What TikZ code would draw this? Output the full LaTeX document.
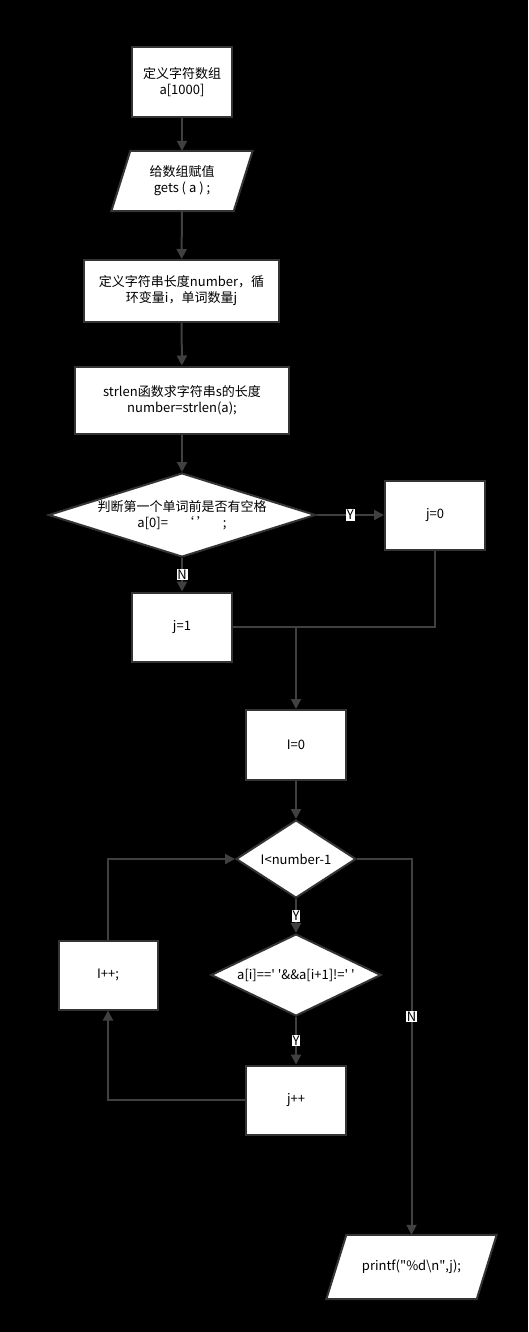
\documentclass[tikz,border=0pt]{standalone}
\usepackage{fontspec}
\setmainfont{Noto Sans CJK SC}
\usetikzlibrary{shapes.geometric,arrows.meta}
\pgfdeclarelayer{background}
\pgfsetlayers{background,main}
\definecolor{edgeGray}{RGB}{64,64,64}
\definecolor{borderGray}{RGB}{52,52,52}
\newcommand{\chartFont}[0]{\fontsize{13}{16}\selectfont}
\newcommand{\sq}[0]{\textquotesingle}
\newcommand{\ioFrame}[2]{%
  \draw[ioedge] ([xshift=#2]#1.north west) -- ([xshift=#2]#1.north east)
    -- ([xshift=-#2]#1.south east) -- ([xshift=-#2]#1.south west) -- cycle;}

\begin{document}
\begin{tikzpicture}[x=1pt, y=-1pt]
  \tikzset{
    procbox/.style={draw=borderGray, line width=2pt, fill=white, align=center,
      font=\chartFont, inner sep=0pt},
    iobox/.style={align=center, font=\chartFont, inner sep=0pt},
    ioedge/.style={draw=borderGray, line width=2pt, fill=white, line join=miter},
    testbox/.style={diamond, draw=borderGray, line width=2pt, fill=white, inner sep=0pt},
    testtext/.style={align=center, font=\chartFont, inner sep=0pt},
    yesno/.style={fill=white, text=black, inner sep=0.8pt, font=\fontsize{13}{13}\selectfont},
    flowline/.style={draw=edgeGray, line width=2pt},
    flow/.style={flowline, -{Triangle[length=10pt, width=10pt]}}
  }
  \useasboundingbox (0,0) rectangle (528,1332);

  \node[procbox, minimum width=100, minimum height=70] (defarr) at (182,82)
    {定义字符数组\\a[1000]};
  \node[iobox, minimum width=122, minimum height=60] (getarr) at (182,181)
    {给数组赋值\\gets ( a ) ;};
  \node[procbox, minimum width=195, minimum height=62] (defvar) at (181.5,291)
    {定义字符串长度number，循\\环变量i，单词数量j};
  \node[procbox, minimum width=214, minimum height=67] (getlen) at (182,400)
    {strlen函数求字符串s的长度\\number=strlen(a);};
  \node[testbox, minimum width=267, minimum height=84] (firstsp) at (182,515) {};
  \node[testtext] at (firstsp) {判断第一个单词前是否有空格\\a[0]=\quad‘\ ’\quad;};
  \node[procbox, minimum width=100, minimum height=69] (jzero) at (435,515) {j=0};
  \node[procbox, minimum width=100, minimum height=69] (jone) at (182,627) {j=1};
  \node[procbox, minimum width=100, minimum height=70] (izero) at (296,745) {I=0};
  \node[testbox, minimum width=120, minimum height=78] (loopcond) at (296,859) {};
  \node[testtext] at (loopcond) {I<number-1};
  \node[testbox, minimum width=170, minimum height=82] (wordcond) at (296,975) {};
  \node[testtext] at (wordcond) {a[i]==\sq\ \sq\&\&a[i+1]!=\sq\ \sq};
  \node[procbox, minimum width=100, minimum height=69] (jinc) at (296,1100) {j++};
  \node[procbox, minimum width=99, minimum height=69] (iinc) at (108,975) {I++;};
  \node[iobox, minimum width=150, minimum height=64] (output) at (411.5,1267)
    {printf(\textquotedbl\%d\textbackslash n\textquotedbl,j);};
  \coordinate (merge) at (izero.north |- jone.east);

  \begin{pgfonlayer}{background}
    \fill[black] (0,0) rectangle (528,1332);
    \ioFrame{getarr}{9.5}
    \ioFrame{output}{10}
  \end{pgfonlayer}

  \draw[flow] (defarr) -- (getarr);
  \draw[flow] (getarr) -- (defvar);
  \draw[flow] (defvar) -- (getlen);
  \draw[flow] (getlen) -- (firstsp);
  \draw[flow] (firstsp) -- node[yesno] {Y} (jzero);
  \draw[flow] (firstsp) -- node[yesno] {N} (jone);
  \draw[flowline] (jzero.south) |- (jone.east);
  \draw[flow] (merge) -- (izero);
  \draw[flow] (izero) -- (loopcond);
  \draw[flow] (loopcond) -- node[yesno] {Y} (wordcond);
  \draw[flow] (wordcond) -- node[yesno] {Y} (jinc);
  \draw[flow] (jinc.west) -| (iinc.south);
  \draw[flow] (iinc.north) |- (loopcond.west);
  \draw[flow] (loopcond.east) -| node[yesno, pos=0.71] {N} (output.north);
\end{tikzpicture}
\end{document}
